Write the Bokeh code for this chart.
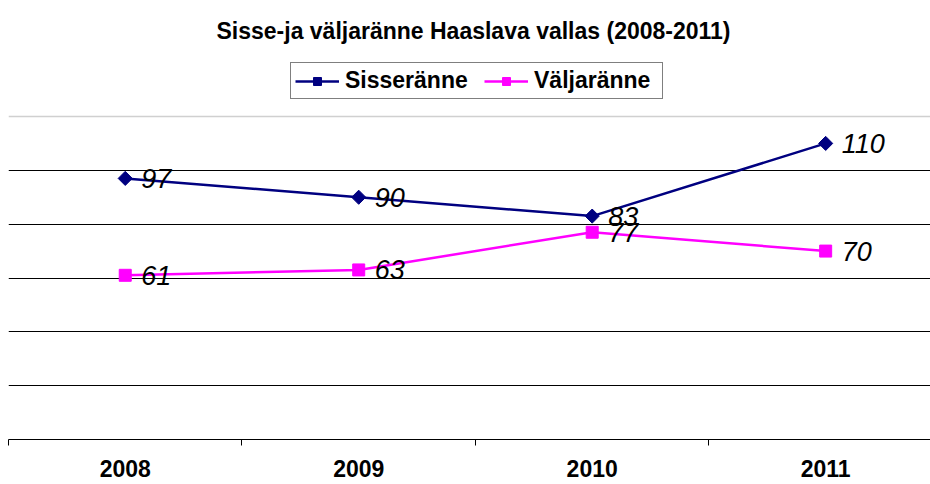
import math
from bokeh.plotting import figure
from bokeh.models import (ColumnDataSource, FixedTicker, Span, Legend, LegendItem,
                          Range1d, Label)
from bokeh.embed import file_html
from bokeh.resources import INLINE

years = ["2008", "2009", "2010", "2011"]
sisse = [97, 90, 83, 110]
valja = [61, 63, 77, 70]
grid_values = [20, 40, 60, 80, 100]
title_text = "Sisse-ja väljaränne Haaslava vallas (2008-2011)"

FONT = "Liberation Sans"
xs = list(range(len(years)))

W, H = 930, 484
BOTTOM = 45
LEFT = 8
p = figure(width=W, height=H, output_backend="svg", toolbar_location=None,
           x_range=Range1d(-0.5, 3.449), y_range=Range1d(0, 163.1),
           title_location=None,
           min_border_left=LEFT, min_border_right=0, min_border_top=0,
           min_border_bottom=BOTTOM)
p.outline_line_color = None
p.background_fill_color = "white"

# y axis hidden, grid lines
p.yaxis.visible = False
p.ygrid.ticker = FixedTicker(ticks=grid_values)
p.ygrid.grid_line_color = "black"
p.ygrid.grid_line_width = 1
p.xgrid.visible = False
p.add_layout(Span(location=120, dimension="width", line_color="#d0d0d0", line_width=1.5))

# x axis
ax = p.xaxis[0]
ax.ticker = FixedTicker(ticks=xs, minor_ticks=[i - 0.5 for i in range(len(years) + 1)])
ax.major_label_overrides = {i: y for i, y in enumerate(years)}
ax.major_tick_out = 0
ax.major_tick_in = 0
ax.minor_tick_in = 0
ax.minor_tick_out = 6
ax.minor_tick_line_color = "black"
ax.axis_line_color = "black"
ax.major_label_text_font = FONT
ax.major_label_text_font_size = "23px"
ax.major_label_text_font_style = "bold"
ax.major_label_text_color = "black"
ax.major_label_standoff = 14

src = ColumnDataSource(dict(x=xs, sisse=sisse, valja=valja,
                            sl=[str(v) for v in sisse], vl=[str(v) for v in valja]))

l1 = p.line("x", "sisse", source=src, line_color="#000080", line_width=2.5)
m1 = p.scatter("x", "sisse", source=src, marker="square", size=10, angle=math.pi / 4,
               fill_color="#000080", line_color="#000080")
l2 = p.line("x", "valja", source=src, line_color="#FF00FF", line_width=2.5)
m2 = p.scatter("x", "valja", source=src, marker="square", size=12,
               fill_color="#FF00FF", line_color="#FF00FF")

for col in ("sl", "vl"):
    ycol = "sisse" if col == "sl" else "valja"
    p.text("x", ycol, text=col, source=src, x_offset=16, text_baseline="middle",
           text_align="left", text_font_size="27px", text_font_style="italic",
           text_color="black", text_font={"value": FONT})

frame_bottom = H - BOTTOM
title = Label(x=473 - LEFT, y=frame_bottom - 30, x_units="screen", y_units="screen",
              text=title_text, text_align="center", text_baseline="middle",
              text_font=FONT, text_font_size="23px", text_font_style="bold",
              text_color="black")
p.add_layout(title)

legend = Legend(items=[LegendItem(label="Sisseränne", renderers=[l1, m1]),
                       LegendItem(label="Väljaränne", renderers=[l2, m2])],
                orientation="horizontal", location=(290 - LEFT, frame_bottom - 99))
legend.label_text_font = FONT
legend.label_text_font_size = "23px"
legend.label_text_font_style = "bold"
legend.label_text_color = "black"
legend.border_line_color = "black"
legend.border_line_width = 1.5
legend.glyph_width = 44
legend.label_standoff = 6
legend.spacing = 15
legend.padding = 4
legend.label_width = 124
legend.margin = 0
legend.background_fill_alpha = 1
p.add_layout(legend, "center")

open("out.html", "w").write(file_html(p, INLINE))
